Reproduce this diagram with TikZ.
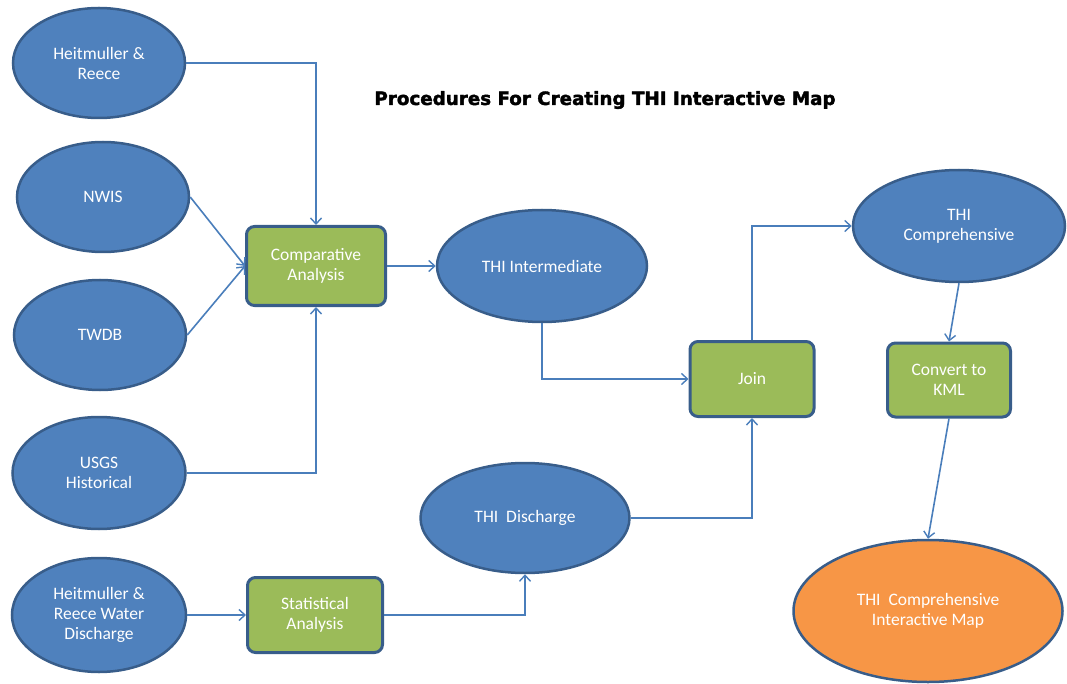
\documentclass[tikz,border=0pt]{standalone}
\usepackage{fontspec}
\setmainfont{Carlito}
\newfontfamily\titlefont[BoldFont={DejaVu Sans Bold}, BoldFeatures={FakeBold=2}]{DejaVu Sans}
\usetikzlibrary{shapes.geometric,arrows.meta}
\definecolor{ovalblue}{HTML}{4F81BD}
\definecolor{edgeblue}{HTML}{385D8A}
\definecolor{boxgreen}{HTML}{9BBB59}
\definecolor{mapor}{HTML}{F79646}
\definecolor{linkblue}{HTML}{4A7EBB}
\tikzset{
  base/.style={draw=edgeblue, text=white, font=\fontsize{17.5}{20}\selectfont, align=center, inner sep=0pt},
  oval/.style={base, ellipse, fill=ovalblue, line width=2.5pt},
  procbox/.style={base, rectangle, rounded corners=8pt, fill=boxgreen, line width=3pt},
  mapoval/.style={base, ellipse, fill=mapor, line width=2.5pt},
  link/.style={draw=linkblue, line width=1.6pt, -{Straight Barb[length=6pt,width=11pt,line width=1.4pt]}},
}
\begin{document}
\begin{tikzpicture}[x=1pt,y=-1pt]
\useasboundingbox (0,0) rectangle (1067,684);
\node[font=\titlefont\bfseries\fontsize{18.3}{22}\selectfont, inner sep=0pt] (title) at (605,100) {Procedures For Creating THI Interactive Map};

\node[oval, minimum width=172pt, minimum height=110pt] (hr) at (99,63) {Heitmuller \&\\Reece};
\node[oval, minimum width=172pt, minimum height=110pt] (nwis) at (103,197) {NWIS};
\node[oval, minimum width=172pt, minimum height=110pt] (twdb) at (100,335) {TWDB};
\node[oval, minimum width=173pt, minimum height=112pt] (usgs) at (99,473) {USGS\\Historical};
\node[oval, minimum width=174pt, minimum height=114pt] (hrwd) at (99,615) {Heitmuller \&\\Reece Water\\Discharge};

\node[procbox, minimum width=139pt, minimum height=79pt] (ca) at (316,266) {Comparative\\Analysis};
\node[procbox, minimum width=135pt, minimum height=75pt] (sa) at (315,615) {Statistical\\Analysis};
\node[procbox, minimum width=124pt, minimum height=75pt] (join) at (752,379) {Join};
\node[procbox, minimum width=123pt, minimum height=74pt] (kml) at (949,380) {Convert to\\KML};

\node[oval, minimum width=210pt, minimum height=112pt] (ti) at (542,266) {THI Intermediate};
\node[oval, minimum width=209pt, minimum height=110pt] (td) at (525,518) {THI\ \ Discharge};
\node[oval, minimum width=212pt, minimum height=112pt] (tc) at (959,226) {THI\\Comprehensive};
\node[mapoval, minimum width=269pt, minimum height=142pt] (map) at (928,611) {THI\ \ Comprehensive\\Interactive Map};

\draw[link] (hr.east) -| (ca.north);
\draw[link] (nwis.east) -- (ca.west);
\draw[link] (twdb.east) -- (ca.west);
\draw[link] (usgs.east) -| (ca.south);
\draw[link] (ca.east) -- (ti.west);
\draw[link] (ti.south) |- (join.west);
\draw[link] (join.north) |- (tc.west);
\draw[link] (td.east) -| (join.south);
\draw[link] (hrwd.east) -- (sa.west);
\draw[link] (sa.east) -| (td.south);
\draw[link] (tc.south) -- (kml.north);
\draw[link] (kml.south) -- (map.north);
\end{tikzpicture}
\end{document}
